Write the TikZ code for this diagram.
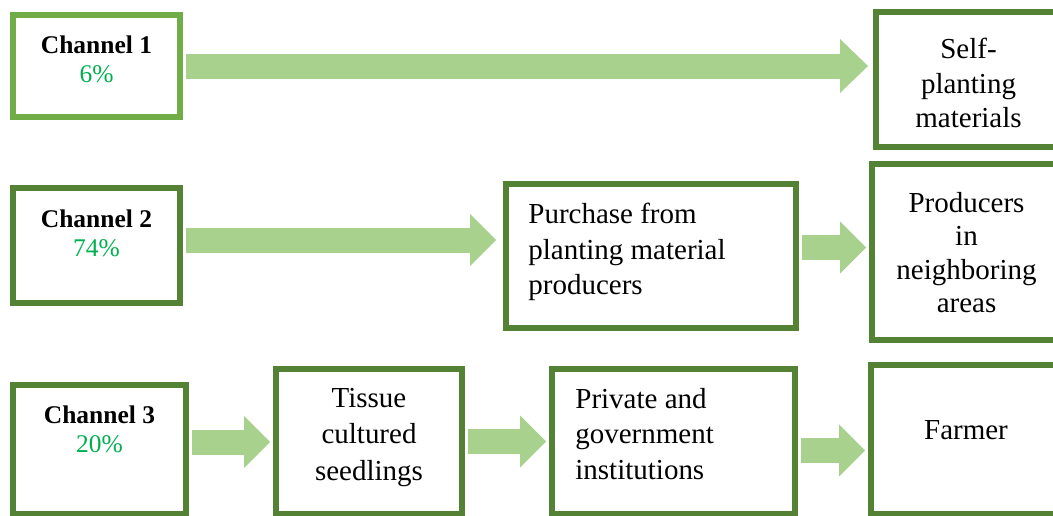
\documentclass[tikz,border=0pt]{standalone}
\usepackage{fontspec}
\setmainfont{Liberation Serif}
\usepackage{xcolor}
\usepackage{tikz}
\usetikzlibrary{calc,arrows.meta,positioning}
\definecolor{chanGreen}{RGB}{112,173,71}
\definecolor{boxGreen}{RGB}{84,130,53}
\definecolor{flowGreen}{RGB}{169,209,142}
\definecolor{pctGreen}{RGB}{0,176,80}

\begin{document}
\begin{tikzpicture}[x=0.02cm,y=-0.02cm,
    box/.style={draw=boxGreen, line width=0.12cm, fill=white, inner sep=0pt},
    chtext/.style={inner sep=0pt, align=center, font=\fontsize{14.5}{17}\selectfont},
    boxtext/.style={inner sep=0pt, font=\fontsize{16.5}{20.1}\selectfont},
    flow/.style={draw=flowGreen, line width=0.5cm,
        -{Triangle[length=0.52cm, width=1.04cm, line width=0pt]},
        shorten <=0.06cm, shorten >=0.06cm}]

\useasboundingbox (0,0) rectangle (1053,515);
\clip (0,0) rectangle (1053,515);

% =========================
% 1. channel 1
% =========================
\node[box, draw=chanGreen, minimum width=3.34cm, minimum height=2.04cm] (ch1) at (96.5,66) {};
\node[box, minimum width=3.7cm, minimum height=2.7cm] (self) at (968.5,79.5) {};

\node[chtext, below=0.46cm of ch1.north] (ch1t) {\textbf{Channel 1}\\\textcolor{pctGreen}{6\%}};
\node[boxtext, align=center, font=\fontsize{16.5}{19.6}\selectfont,
    below=0.58cm of self.north] (selft) {Self-\\planting\\materials};

% wider head on the long one
\draw[flow, -{Triangle[length=0.56cm, width=1.08cm, line width=0pt]}, shorten >=0.1cm]
    (ch1.east) -- (ch1.east -| self.west);

% =========================
% 2. channel 2
% =========================
\node[box, minimum width=3.34cm, minimum height=2.3cm] (ch2) at (96.5,245.5) {};
\node[box, minimum width=5.8cm, minimum height=2.88cm] (buy) at (651,256) {};
\node[box, minimum width=3.78cm, minimum height=3.52cm] (prod) at (966.5,252) {};

\node[chtext, below=0.48cm of ch2.north] (ch2t) {\textbf{Channel 2}\\\textcolor{pctGreen}{74\%}};
\node[boxtext, align=left, below right=0.44cm and 0.5cm of buy.north west] (buyt)
    {Purchase from\\planting material\\producers};
\node[boxtext, align=center, font=\fontsize{16.5}{19}\selectfont,
    below=0.62cm of prod.north] (prodt) {Producers\\in\\neighboring\\areas};

\draw[flow, shorten >=0.14cm] ($(ch2.east)+(0,-5.5)$) coordinate (a2) -- (a2 -| buy.west);
\draw[flow] ($(buy.east)+(0,-8.5)$) coordinate (a3) -- (a3 -| prod.west);

% =========================
% 3. channel 3
% =========================
\node[box, minimum width=3.46cm, minimum height=2.58cm] (ch3) at (99.5,449.5) {};
\node[box, minimum width=3.72cm, minimum height=2.9cm] (tissue) at (369,441.5) {};
\node[box, minimum width=4.86cm, minimum height=2.9cm] (inst) at (673.5,441.5) {};
\node[box, minimum width=3.8cm, minimum height=2.98cm] (farm) at (966,439.5) {};

\node[chtext, below=0.46cm of ch3.north] (ch3t) {\textbf{Channel 3}\\\textcolor{pctGreen}{20\%}};
\node[boxtext, align=center, font=\fontsize{16.5}{20.7}\selectfont,
    below=0.44cm of tissue.north] (tissuet) {Tissue\\cultured\\seedlings};
\node[boxtext, align=left, below right=0.44cm and 0.52cm of inst.north west] (instt)
    {Private and\\government\\institutions};
\node[boxtext, below=1.16cm of farm.north] (farmt) {Farmer};

\draw[flow] ($(ch3.east)+(0,-7.5)$) coordinate (a4) -- (a4 -| tissue.west);
\draw[flow] (tissue.east) -- (tissue.east -| inst.west);
\draw[flow] ($(inst.east)+(0,9)$) coordinate (a6) -- (a6 -| farm.west);

\end{tikzpicture}
\end{document}
